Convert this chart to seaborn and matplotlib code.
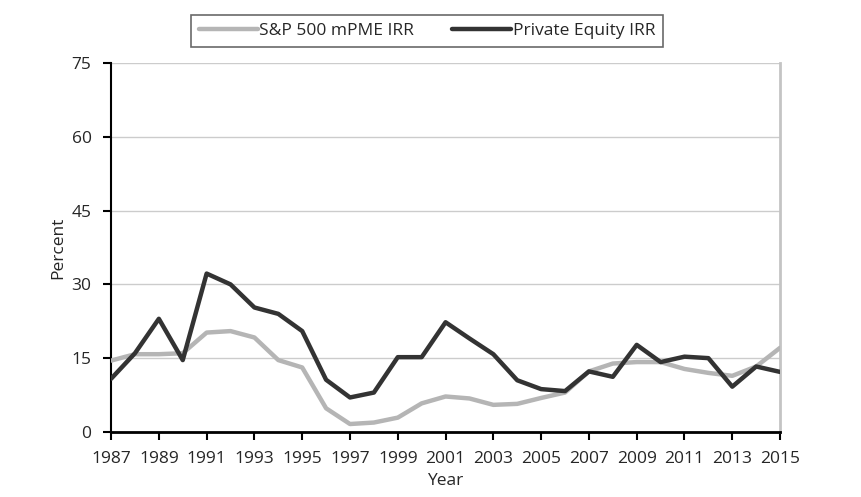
import numpy as np
import matplotlib.pyplot as plt
import pandas as pd
import seaborn as sns

years = list(range(1987, 2016))
sp500_mpme = [14.5, 15.8, 15.8, 16.0, 20.2, 20.5, 19.2, 14.6, 13.1, 4.8,
              1.6, 1.9, 2.9, 5.8, 7.2, 6.8, 5.5, 5.7, 6.9, 8.0,
              12.3, 13.9, 14.2, 14.2, 12.8, 12.0, 11.4, 13.3, 17.1]
private_equity = [10.8, 16.0, 23.0, 14.6, 32.2, 30.0, 25.3, 24.0, 20.5, 10.6,
                  7.0, 8.0, 15.2, 15.2, 22.3, 19.0, 15.8, 10.5, 8.7, 8.3,
                  12.3, 11.2, 17.7, 14.2, 15.3, 15.0, 9.2, 13.3, 12.2]
yticks = [0, 15, 30, 45, 60, 75]
xticks = list(range(1987, 2016, 2))

df = pd.DataFrame({"Year": years,
                   "S&P 500 mPME IRR": sp500_mpme,
                   "Private Equity IRR": private_equity})
long = df.melt(id_vars="Year", var_name="series", value_name="Percent")

sns.set_style("white")
plt.rcParams['font.family'] = ['Open Sans', 'DejaVu Sans']

fig = plt.figure(figsize=(8.61, 4.97), dpi=100)
ax = fig.add_axes([0.129, 0.131, 0.777, 0.742])

sns.lineplot(data=long, x="Year", y="Percent", hue="series",
             palette={"S&P 500 mPME IRR": "#b5b5b5", "Private Equity IRR": "#333333"},
             linewidth=3.2, ax=ax, zorder=3)

ax.set_xlim(1987, 2015)
ax.set_ylim(0, 75)
ax.set_yticks(yticks)
ax.set_xticks(xticks)
ax.yaxis.grid(True, color="#cccccc", linewidth=1)
ax.set_axisbelow(True)
ax.tick_params(axis="both", direction="out", length=6, width=1.5, color="black",
               labelsize=12.5, left=True, bottom=True)
ax.tick_params(axis="y", pad=8)
ax.tick_params(axis="x", pad=8)
ax.spines["top"].set_visible(False)
ax.spines["right"].set_color("#c4c4c4")
ax.spines["right"].set_linewidth(2)
ax.spines["left"].set_color("black")
ax.spines["left"].set_linewidth(1.5)
ax.spines["bottom"].set_color("black")
ax.spines["bottom"].set_linewidth(2)
ax.set_xlabel("Year", fontsize=12.5, labelpad=4)
ax.set_ylabel("Percent", fontsize=12.5, labelpad=4)

handles, labels = ax.get_legend_handles_labels()
ax.legend(handles, labels, loc="center", bbox_to_anchor=(0.496, 0.937),
          bbox_transform=fig.transFigure, ncol=2, frameon=True, fancybox=False,
          edgecolor="#444444", fontsize=12.5, handlelength=3.4, handletextpad=0.1,
          columnspacing=2.2, borderpad=0.45, borderaxespad=0)
ax.get_legend().get_frame().set_linewidth(1.2)

fig.savefig("out.png", dpi=100)
